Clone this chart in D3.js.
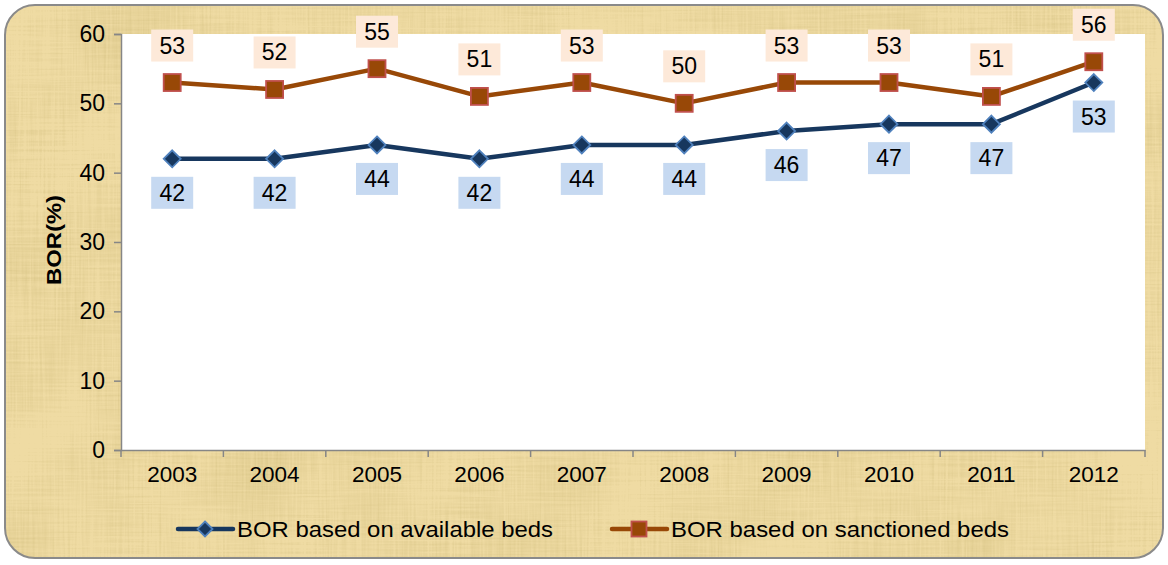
<!DOCTYPE html>
<html><head><meta charset="utf-8">
<script src="https://cdn.jsdelivr.net/npm/d3@7"></script>
<style>body{margin:0;background:#fff}svg{display:block}</style>
</head><body>
<script>
const years = ["2003","2004","2005","2006","2007","2008","2009","2010","2011","2012"];
const availableBeds = [42,42,44,42,44,44,46,47,47,53];
const sanctionedBeds = [53,52,55,51,53,50,53,53,51,56];
const yTicks = [0,10,20,30,40,50,60];
const seriesNames = ["BOR based on available beds","BOR based on sanctioned beds"];

const W=1168,H=565;
const FONT="Liberation Sans, Arial, sans-serif";
const svg=d3.select("body").append("svg").attr("width",W).attr("height",H);
const defs=svg.append("defs");
const f=defs.append("filter").attr("id","pap").attr("x",0).attr("y",0).attr("width","100%").attr("height","100%");
f.append("feTurbulence").attr("type","fractalNoise").attr("baseFrequency","0.5 0.012").attr("numOctaves",3).attr("seed",3).attr("result","n1");
f.append("feTurbulence").attr("type","fractalNoise").attr("baseFrequency","0.012 0.5").attr("numOctaves",3).attr("seed",7).attr("result","n2");
f.append("feTurbulence").attr("type","fractalNoise").attr("baseFrequency","0.01 0.01").attr("numOctaves",2).attr("seed",11).attr("result","n3");
f.append("feComposite").attr("in","n1").attr("in2","n2").attr("operator","arithmetic").attr("k2",0.4).attr("k3",0.4).attr("result","n12");
f.append("feComposite").attr("in","n12").attr("in2","n3").attr("operator","arithmetic").attr("k2",0.75).attr("k3",0.35).attr("result","n");
f.append("feColorMatrix").attr("in","n").attr("type","matrix")
 .attr("values","0 0 0 0 0.66  0 0 0 0 0.53  0 0 0 0 0.22  -1.8 0 0 0 1.05").attr("result","c");
f.append("feComposite").attr("in","c").attr("in2","SourceGraphic").attr("operator","in");
const clip=defs.append("clipPath").attr("id","cl");
clip.append("rect").attr("x",5).attr("y",5).attr("width",1158).attr("height",553).attr("rx",30);

svg.append("rect").attr("x",5).attr("y",5).attr("width",1158).attr("height",553).attr("rx",30).attr("fill","#efdba3");
svg.append("rect").attr("x",5).attr("y",5).attr("width",1158).attr("height",553).attr("rx",30).attr("fill","#efdba3").attr("filter","url(#pap)").attr("clip-path","url(#cl)");
svg.append("rect").attr("x",5).attr("y",5).attr("width",1158).attr("height",553).attr("rx",30).attr("fill","none").attr("stroke","#8a8a8a").attr("stroke-width",2);

const m={l:121,r:1145,t:34,b:450};
svg.append("rect").attr("x",m.l).attr("y",m.t).attr("width",m.r-m.l).attr("height",m.b-m.t).attr("fill","#fff");

const x=d3.scaleBand().domain(years).range([m.l,m.r]);
const y=d3.scaleLinear().domain([0,60]).range([m.b,m.t]);
const cx=d=>x(d)+x.bandwidth()/2;

// axes
const ya=svg.append("g").attr("transform",`translate(${m.l},0)`)
 .call(d3.axisLeft(y).tickValues(yTicks).tickSize(7).tickPadding(9));
ya.select(".domain").attr("stroke","#868686").attr("stroke-width",1.5);
ya.selectAll(".tick line").attr("stroke","#868686").attr("stroke-width",1.5);
ya.selectAll("text").attr("font-family",FONT).attr("font-size",23).attr("fill","#000");

const xa=svg.append("g").attr("transform",`translate(0,${m.b})`)
 .call(d3.axisBottom(x).tickSize(0).tickPadding(16));
xa.select(".domain").attr("stroke","#868686").attr("stroke-width",1.5);
xa.selectAll("text").attr("font-family",FONT).attr("font-size",22.5).attr("fill","#000");
svg.append("g").selectAll("line").data(d3.range(years.length+1)).join("line")
 .attr("x1",i=>m.l+i*x.bandwidth()).attr("x2",i=>m.l+i*x.bandwidth())
 .attr("y1",m.b).attr("y2",m.b+7).attr("stroke","#868686").attr("stroke-width",1.5);

svg.append("text").attr("transform",`translate(61,${(m.t+m.b)/2-2}) rotate(-90)`)
 .attr("text-anchor","middle").attr("font-family",FONT).attr("font-weight","bold")
 .attr("font-size",21).attr("textLength",90).attr("lengthAdjust","spacingAndGlyphs").text("BOR(%)");

const line=d3.line().x((d,i)=>cx(years[i])).y(d=>y(d));
svg.append("path").datum(availableBeds).attr("d",line).attr("fill","none").attr("stroke","#17375e").attr("stroke-width",4.5).attr("stroke-linejoin","round");
svg.append("path").datum(sanctionedBeds).attr("d",line).attr("fill","none").attr("stroke","#984807").attr("stroke-width",4.5).attr("stroke-linejoin","round");

const diamond=(g,px,py,s)=>g.append("path").attr("d",`M${px},${py-s}L${px+s},${py}L${px},${py+s}L${px-s},${py}Z`)
 .attr("fill","#17375e").attr("stroke","#4f81bd").attr("stroke-width",1.8);
const square=(g,px,py,s)=>g.append("rect").attr("x",px-s).attr("y",py-s).attr("width",2*s).attr("height",2*s)
 .attr("fill","#984807").attr("stroke","#c0504d").attr("stroke-width",1.8);

const mk=svg.append("g");
availableBeds.forEach((v,i)=>diamond(mk,cx(years[i]),y(v),8.5));
sanctionedBeds.forEach((v,i)=>square(mk,cx(years[i]),y(v),8.5));

const lab=svg.append("g").attr("font-family",FONT).attr("font-size",23);
function label(v,px,py,bg){
  lab.append("rect").attr("x",px-21).attr("y",py-16).attr("width",42).attr("height",32).attr("fill",bg);
  lab.append("text").attr("x",px).attr("y",py+8).attr("text-anchor","middle").attr("fill","#000").text(v);
}
sanctionedBeds.forEach((v,i)=>label(v,cx(years[i]),y(v)-37,"#fde9d9"));
availableBeds.forEach((v,i)=>label(v,cx(years[i]),y(v)+34,"#c6d9f1"));

// legend
const lg=svg.append("g").attr("font-family",FONT).attr("font-size",22.5);
const ly=529;
lg.append("line").attr("x1",178).attr("x2",233).attr("y1",ly).attr("y2",ly).attr("stroke","#17375e").attr("stroke-width",4.5).attr("stroke-linecap","round");
diamond(lg,205,ly,7.5);
lg.append("text").attr("x",237).attr("y",ly+8).attr("textLength",316).attr("lengthAdjust","spacingAndGlyphs").text(seriesNames[0]);
lg.append("line").attr("x1",612).attr("x2",667).attr("y1",ly).attr("y2",ly).attr("stroke","#984807").attr("stroke-width",4.5).attr("stroke-linecap","round");
square(lg,639,ly,7.5);
lg.append("text").attr("x",671).attr("y",ly+8).attr("textLength",338).attr("lengthAdjust","spacingAndGlyphs").text(seriesNames[1]);
</script>
</body></html>
